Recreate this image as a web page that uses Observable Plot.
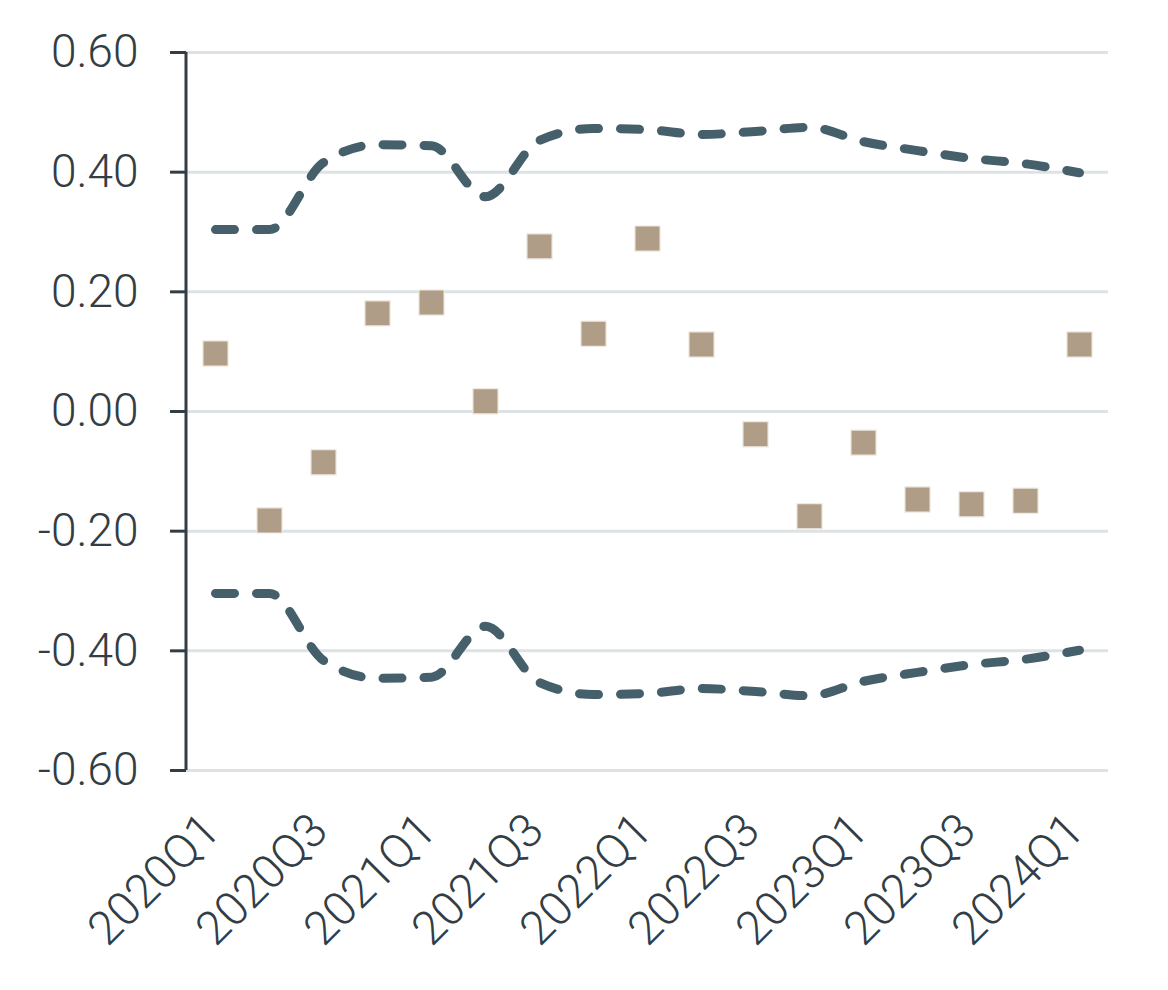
<!DOCTYPE html>
<html>
<head>
<meta charset="utf-8">
<script src="https://cdn.jsdelivr.net/npm/d3@7"></script>
<script src="https://cdn.jsdelivr.net/npm/@observablehq/plot@0.6"></script>
<style>
  html, body { margin: 0; padding: 0; background: #fff; }
  #chart { width: 1168px; height: 990px; }
  svg { font-family: "Roboto", "DejaVu Sans", sans-serif; }
</style>
</head>
<body>
<div id="chart"></div>
<script>
const quarters = ["2020Q1","2020Q2","2020Q3","2020Q4","2021Q1","2021Q2","2021Q3","2021Q4","2022Q1","2022Q2","2022Q3","2022Q4","2023Q1","2023Q2","2023Q3","2023Q4","2024Q1"];
const values = [0.097,-0.182,-0.085,0.164,0.182,0.017,0.276,0.130,0.289,0.112,-0.038,-0.175,-0.052,-0.147,-0.155,-0.149,0.112];
const upper = [0.304,0.304,0.416,0.446,0.444,0.359,0.453,0.473,0.471,0.463,0.468,0.475,0.451,0.436,0.423,0.414,0.399];
const lower = [-0.304,-0.304,-0.416,-0.446,-0.444,-0.359,-0.453,-0.473,-0.471,-0.463,-0.468,-0.475,-0.451,-0.436,-0.423,-0.414,-0.399];
const xTicks = ["2020Q1","2020Q3","2021Q1","2021Q3","2022Q1","2022Q3","2023Q1","2023Q3","2024Q1"];
const yTicks = [-0.6,-0.4,-0.2,0,0.2,0.4,0.6];

const points = quarters.map((q, i) => ({q, v: values[i]}));
const up = quarters.map((q, i) => ({q, v: upper[i]}));
const lo = quarters.map((q, i) => ({q, v: lower[i]}));

const textColor = "#333d44";
const lineColor = "#46606b";

const chart = Plot.plot({
  width: 1168,
  height: 990,
  marginLeft: 186,
  marginRight: 60,
  marginTop: 52,
  marginBottom: 220,
  style: {fontSize: "46px", fontFamily: "Roboto, 'DejaVu Sans', sans-serif", fontWeight: 300, color: textColor, background: "#fff"},
  x: {type: "point", domain: quarters, padding: 0.5, label: null},
  y: {domain: [-0.6, 0.6], label: null},
  marks: [
    Plot.gridY(yTicks, {stroke: "#dde2e4", strokeOpacity: 1, strokeWidth: 3}),
    Plot.axisY(yTicks, {tickSize: 16, tickPadding: 32, strokeWidth: 3, stroke: textColor, tickFormat: d => d.toFixed(2), fill: textColor, label: null, fontSize: 46}),
    Plot.ruleX([0], {x: null, y1: -0.6, y2: 0.6, stroke: textColor, strokeWidth: 3, render: (index, scales, values, dims) => {
      const g = d3.create("svg:g");
      g.append("line").attr("x1", dims.marginLeft).attr("x2", dims.marginLeft)
        .attr("y1", scales.y(0.6)).attr("y2", scales.y(-0.6))
        .attr("stroke", textColor).attr("stroke-width", 3);
      return g.node();
    }}),
    Plot.axisX(xTicks, {tickSize: 0, tickRotate: -45, tickPadding: 52, dx: -4, fill: textColor, label: null, fontSize: 47}),
    Plot.line(up, {x: "q", y: "v", stroke: lineColor, strokeWidth: 9, strokeDasharray: "19 22", strokeLinecap: "round", curve: "monotone-x"}),
    Plot.line(lo, {x: "q", y: "v", stroke: lineColor, strokeWidth: 9, strokeDasharray: "19 22", strokeLinecap: "round", curve: "monotone-x"}),
    Plot.dot(points, {x: "q", y: "v", symbol: "square", r: 14.2, fill: "#b09d87", stroke: "#efe9e2", strokeWidth: 1.2})
  ]
});
document.getElementById("chart").appendChild(chart);
</script>
</body>
</html>
